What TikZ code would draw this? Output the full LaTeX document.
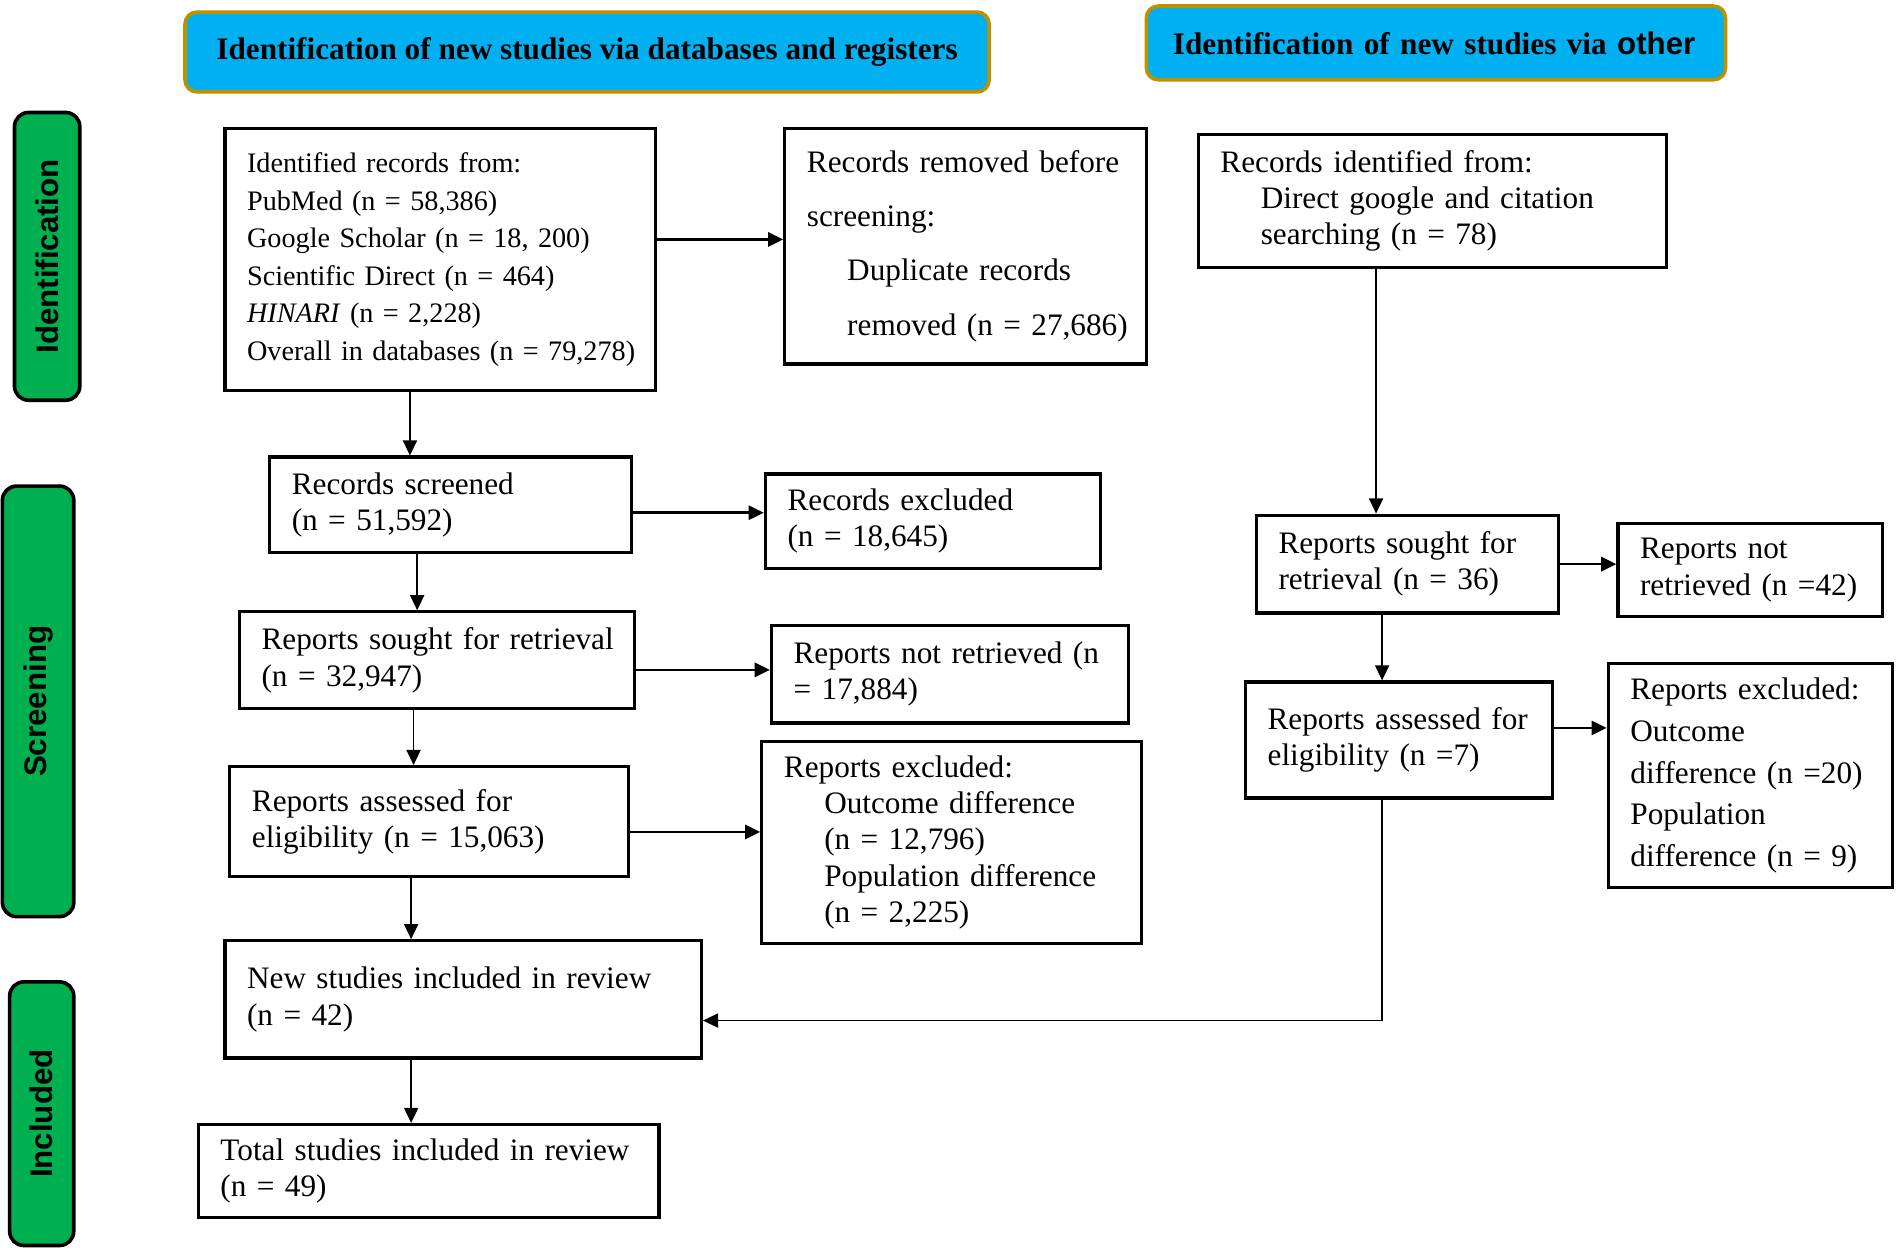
\documentclass[tikz,border=0pt]{standalone}
\usepackage{fontspec}
\setmainfont{Liberation Serif}
\setsansfont{Liberation Sans}
\usetikzlibrary{arrows.meta}
\definecolor{headblue}{HTML}{00B0F0}
\definecolor{headgold}{HTML}{BF9000}
\definecolor{phasegreen}{HTML}{00B050}

\begin{document}
\begin{tikzpicture}[
		x=0.6pt,y=-0.6pt,
		>={Triangle[length=7.5pt,width=7pt]},
		head/.style={draw=headgold,fill=headblue,line width=1.8pt,rounded corners=6pt,font=\fontsize{15.5}{18}\selectfont\bfseries,inner sep=0pt},
		phase/.style={draw,fill=phasegreen,line width=1.8pt,rounded corners=7pt,rotate=90,font=\fontsize{15.5}{18}\selectfont\sffamily\bfseries,inner sep=0pt},
		box/.style={draw,line width=1.6pt,align=left,inner xsep=11pt,inner ysep=0pt,font=\fontsize{15.5}{18}\selectfont,
			execute at begin node={\rightskip=0pt plus 1fil minus 40pt\relax}},
		flow/.style={line width=0.8pt},
		side/.style={line width=1.3pt}
		]
		\useasboundingbox (0,0) rectangle (1568,1034);
		
		% headers and phases
		\node[head,minimum width=399pt,minimum height=39.6pt](hdb) at (485.5,43){Identification of new studies via databases and registers};
		\node[head,text width=261pt,inner xsep=13.2pt,align=left,minimum height=36.6pt](hoth) at (1187.5,35.5){Identification of new studies via \textsf{other}};
		\node[phase,minimum width=142.8pt,minimum height=32.4pt](pid) at (39,212){Identification};
		\node[phase,minimum width=213.6pt,minimum height=35.4pt](pscr) at (31.5,580){Screening};
		\node[phase,minimum width=130.8pt,minimum height=31.8pt](pinc) at (34.5,921){Included};
		
		% databases and registers
		\node[box,text width=191.6pt,minimum height=130.2pt,font=\fontsize{14}{18.6}\selectfont](idrec) at (364,214.5){Identified records from:\\PubMed (n = 58,386)\\Google Scholar (n = 18, 200)\\Scientific Direct (n = 464)\\\textit{HINARI} (n = 2,228)\\Overall in databases (n = 79,278)};
		\node[box,text width=157.4pt,minimum height=117pt,font=\fontsize{15.5}{27}\selectfont](removed) at (798.5,203.5){Records removed before\\screening:\\\hspace*{20pt}Duplicate records\\\hspace*{20pt}removed (n = 27,686)};
		\node[box,text width=157.4pt,minimum height=47.4pt](screened) at (372.5,417.5){Records screened\\(n = 51,592)};
		\node[box,text width=144.2pt,minimum height=46.8pt](recexcl) at (771.5,431){Records excluded\\(n = 18,645)};
		\node[box,text width=174.2pt,minimum height=48pt](sought) at (361.5,546){Reports sought for retrieval\\(n = 32,947)};
		\node[box,text width=155pt,minimum height=48.6pt](notret) at (785.5,557.5){Reports not retrieved (n\\= 17,884)};
		\node[box,text width=176pt,minimum height=54.6pt](assessed) at (355,679.5){Reports assessed for\\eligibility (n = 15,063)};
		\node[box,text width=166.4pt,minimum height=100.2pt](repexcl) at (787,696.5){Reports excluded:\\\hspace*{20pt}Outcome difference\\\hspace*{20pt}(n = 12,796)\\\hspace*{20pt}Population difference\\\hspace*{20pt}(n = 2,225)};
		\node[box,text width=214.4pt,minimum height=58.2pt](newstud) at (383,826.5){New studies included in review\\(n = 42)};
		\node[box,text width=206.6pt,minimum height=46.2pt](total) at (354.5,968.5){Total studies included in review\\(n = 49)};
		
		% other methods
		\node[box,text width=210.2pt,minimum height=66pt](other) at (1184.5,166){Records identified from:\\\hspace*{20pt}Direct google and citation\\\hspace*{20pt}searching (n = 78)};
		\node[box,text width=128pt,minimum height=48.6pt](sought2) at (1164,466.5){Reports sought for\\retrieval (n = 36)};
		\node[box,text width=109.4pt,minimum height=46.2pt](notret2) at (1447.5,471.5){Reports not\\retrieved (n =42)};
		\node[box,text width=130.4pt,minimum height=57.6pt](assessed2) at (1157,612){Reports assessed for\\eligibility (n =7)};
		\node[box,text width=119pt,minimum height=111pt,font=\fontsize{15.5}{20.7}\selectfont](repexcl2) at (1447.5,641.5){Reports excluded:\\Outcome\\difference (n =20)\\Population\\difference (n = 9)};
		
		\path[->,flow]
		([xshift=-15pt]idrec.south) edge ([xshift=-15pt]idrec.south |- screened.north)
		([xshift=-16.5pt]screened.south) edge ([xshift=-16.5pt]screened.south |- sought.north)
		([xshift=-11.7pt]sought.south) edge ([xshift=-11.7pt]sought.south |- assessed.north)
		([xshift=-9pt]assessed.south) edge ([xshift=-9pt]assessed.south |- newstud.north)
		([xshift=-25.8pt]newstud.south) edge ([xshift=-25.8pt]newstud.south |- total.north)
		([xshift=-27.9pt]other.south) edge ([xshift=-27.9pt]other.south |- sought2.north)
		([xshift=-12.6pt]sought2.south) edge ([xshift=-12.6pt]sought2.south |- assessed2.north)
		;
		
		\path[->,side]
		([yshift=9.9pt]idrec.east) edge ([yshift=9.9pt]idrec.east -| removed.west)
		([yshift=-3.9pt]screened.east) edge ([yshift=-3.9pt]screened.east -| recexcl.west)
		([yshift=-4.8pt]sought.east) edge ([yshift=-4.8pt]sought.east -| notret.west)
		([yshift=-5.1pt]assessed.east) edge ([yshift=-5.1pt]assessed.east -| repexcl.west)
		(sought2.east) edge (sought2.east -| notret2.west)
		([yshift=6pt]assessed2.east) edge ([yshift=6pt]assessed2.east -| repexcl2.west)
		;
		
		\draw[->,flow] ([xshift=-8.4pt]assessed2.south) |- ([yshift=-10.5pt]newstud.east);
		
	\end{tikzpicture}
\end{document}
